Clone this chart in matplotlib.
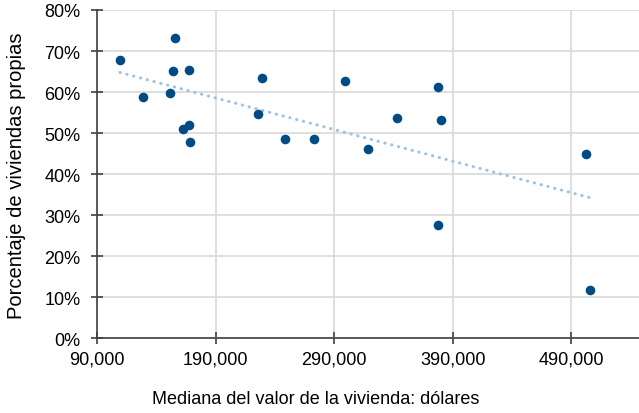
import numpy as np
import matplotlib.pyplot as plt
from matplotlib.ticker import FuncFormatter

plt.rcParams['font.family'] = ['Liberation Sans', 'DejaVu Sans']

# Mediana del valor de la vivienda (dólares) y porcentaje de viviendas propias
home_value = [109400, 155900, 154400, 167700, 129100, 151400, 167700, 162400,
              168800, 226000, 229100, 248200, 273300, 298900, 318600, 342800,
              377800, 380300, 377800, 502200, 505500]
owner_pct = [67.7, 73.2, 65.1, 65.4, 58.8, 59.8, 52.0, 50.9,
             47.9, 54.7, 63.4, 48.7, 48.7, 62.8, 46.2, 53.7,
             61.3, 53.3, 27.6, 44.9, 11.9]
x_ticks = [90000, 190000, 290000, 390000, 490000]
y_ticks = [0, 10, 20, 30, 40, 50, 60, 70, 80]

x = np.array(home_value)
y = np.array(owner_pct)

fig = plt.figure(figsize=(6.39, 4.14), dpi=100)
ax = fig.add_axes([0.1518, 0.180, 0.8482, 0.7935])

# trend line (linear fit)
slope, intercept = np.polyfit(x, y, 1)
xt = np.array([x.min(), x.max()])
ax.plot(xt, slope * xt + intercept, color='#9DC3E6', lw=2.2,
        linestyle=(0, (0.1, 2.2)), dash_capstyle='round', zorder=2)

ax.scatter(x, y, s=48, color='#004A86', zorder=3, linewidths=0)

ax.set_xlim(90000, 547000)
ax.set_ylim(0, 80)
ax.set_xticks(x_ticks)
ax.set_yticks(y_ticks)
ax.xaxis.set_major_formatter(FuncFormatter(lambda v, p: f'{int(v):,}'))
ax.yaxis.set_major_formatter(FuncFormatter(lambda v, p: f'{int(v)}%'))

ax.grid(True, color='#D9D9D9', lw=1.2, zorder=0)
ax.set_axisbelow(True)
for s in ['top', 'right']:
    ax.spines[s].set_visible(False)
for s in ['left', 'bottom']:
    ax.spines[s].set_color('#404040')
    ax.spines[s].set_linewidth(1.2)
ax.tick_params(axis='both', labelsize=13, colors='#404040', labelcolor='black',
               length=8, width=1.2, direction='inout')
ax.tick_params(axis='x', pad=4.5)
ax.tick_params(axis='y', pad=8)

fig.text(0.4945, 0.034, 'Mediana del valor de la vivienda: dólares',
         fontsize=13, ha='center', va='center')
fig.text(17 / 639, 1 - 176 / 414, 'Porcentaje de viviendas propias',
         fontsize=14.5, rotation=90, ha='center', va='center')

fig.savefig('out.png', dpi=100)
